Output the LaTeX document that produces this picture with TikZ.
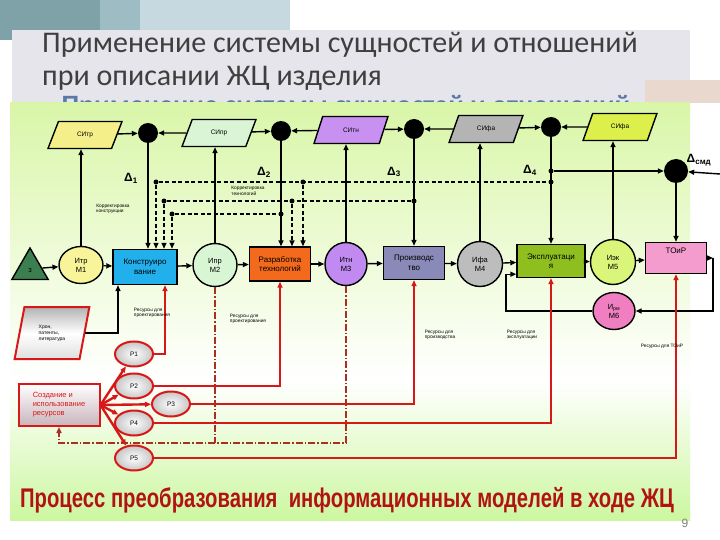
\documentclass[tikz,border=0pt]{standalone}
\usepackage{fontspec}
\setmainfont{Liberation Sans}
\newfontfamily\ttlfont{Carlito}
\usetikzlibrary{shapes.geometric,arrows.meta}

\definecolor{cTeal}{HTML}{7FA2A9}
\definecolor{cTealB}{HTML}{9DBCC4}
\definecolor{cSky}{HTML}{C6D9E1}
\definecolor{cBand}{HTML}{E5E5EB}
\definecolor{cTan}{HTML}{E8D8CE}
\definecolor{cGrnA}{HTML}{D9F6A8}
\definecolor{cGrnB}{HTML}{CCF7A0}
\definecolor{cRed}{HTML}{D81818}
\definecolor{cDD}{HTML}{A83020}
\definecolor{cTtl}{HTML}{3F3F3F}
\definecolor{cBtl}{HTML}{B31212}
\definecolor{cGhost}{HTML}{5A78A8}
\definecolor{cPinkG}{HTML}{C8B4BC}
\definecolor{cSItr}{HTML}{F5EF8A}
\definecolor{cSIpr}{HTML}{D9F5D5}
\definecolor{cSItn}{HTML}{C890F0}
\definecolor{cSIfa}{HTML}{B4B4B4}
\definecolor{cSIek}{HTML}{DCEF4A}
\definecolor{cTri}{HTML}{3B7F50}
\definecolor{cM1}{HTML}{F7F49A}
\definecolor{cKon}{HTML}{22B0EC}
\definecolor{cM2}{HTML}{D8F5D4}
\definecolor{cRaz}{HTML}{F46A1C}
\definecolor{cM3}{HTML}{C08AF0}
\definecolor{cPro}{HTML}{8A8AB8}
\definecolor{cM4}{HTML}{BDBDBD}
\definecolor{cEks}{HTML}{8FBF1F}
\definecolor{cM5}{HTML}{D9F57A}
\definecolor{cTor}{HTML}{F59CCF}
\definecolor{cM6}{HTML}{EF7FC1}

\tikzset{si/.style={trapezium, trapezium left angle=62, trapezium right angle=118, trapezium stretches,
  draw, line width=1.4pt, minimum width=74pt, minimum height=27pt, inner sep=0, font=\fontsize{6.5}{7}\selectfont}}
\tikzset{jn/.style={circle, fill=black, minimum size=20pt, inner sep=0}}
\tikzset{dt/.style={circle, fill=black, minimum size=5pt, inner sep=0}}
\tikzset{pr/.style={rectangle, draw, line width=1.4pt, minimum width=62pt, minimum height=34pt, inner sep=1pt,
  align=center, font=\fontsize{8}{9.5}\selectfont}}
\tikzset{mdl/.style={ellipse, draw, line width=1.4pt, minimum width=44pt, minimum height=43pt, inner sep=0,
  align=center, font=\fontsize{7.5}{9}\selectfont}}
\tikzset{rs/.style={ellipse, draw=cRed, line width=2pt, inner color=white, outer color=gray!45,
  minimum width=38pt, minimum height=25pt, inner sep=0, font=\fontsize{6.5}{7}\selectfont}}
\tikzset{lbl/.style={align=left, font=\fontsize{4.8}{5.6}\selectfont, inner sep=0}}
\tikzset{dlt/.style={font=\bfseries\fontsize{12}{12}\selectfont, inner sep=0}}
\tikzset{ln/.style={draw=black, line width=1.4pt}}
\tikzset{dln/.style={draw=black, line width=1.3pt, dash pattern=on 4pt off 2.5pt}}
\tikzset{rln/.style={draw=cRed, line width=2.4pt}}
\tikzset{ddl/.style={draw=cDD, line width=1.6pt, dash pattern=on 7pt off 2pt on 1.5pt off 2pt}}

\begin{document}
\begin{tikzpicture}[x=1pt, y=-1pt, >={Triangle[length=6pt,width=5pt]}]
\useasboundingbox (0,0) rectangle (720,540);
% slide
\fill[white] (0,0) rectangle (720,540);
\fill[cTeal] (0,0) rectangle (100,40);
\fill[cTealB] (100,0) rectangle (140,30);
\fill[cSky] (140,0) rectangle (290,30);
\fill[cBand] (12,30) rectangle (690,103);
\fill[cTan] (645,80) rectangle (720,103);
\node[anchor=base west, text=cGhost, font=\ttlfont\bfseries\fontsize{28}{30}\selectfont] (gh) at (58,115)
  {Применение системы сущностей и отношений};
\shade[top color=cGrnA, bottom color=white] (10,103) rectangle (690,380);
\shade[top color=white, bottom color=cGrnB] (10,380) rectangle (690,520);
\node[anchor=north west, align=left, inner sep=0, text=cTtl, font=\ttlfont\fontsize{30}{33}\selectfont] (ttl)
  at (42,32) {Применение системы сущностей и отношений\\при описании ЖЦ изделия};

% top row
\node[si, fill=cSItr] (sitr) at (85,135) {СИтр};
\node[si, fill=cSIpr] (sipr) at (219,133) {СИпр};
\node[si, fill=cSItn] (sitn) at (351,130) {СИтн};
\node[si, fill=cSIfa] (sifa) at (486,129) {СИфа};
\node[si, fill=cSIek] (siek) at (620,127) {СИфа};
\node[jn] (c1) at (148,133) {};
\node[jn] (c2) at (281,131) {};
\node[jn] (c3) at (414,129) {};
\node[jn] (c4) at (551,127) {};
\node[jn, minimum size=24pt] (c5) at (676,171) {};
\coordinate (rin) at (720,174);
\draw[ln,->] (sitr) -- (c1);
\draw[ln,->] (sipr) -- (c1);
\draw[ln,->] (sipr) -- (c2);
\draw[ln,->] (sitn) -- (c2);
\draw[ln,->] (sitn) -- (c3);
\draw[ln,->] (sifa) -- (c3);
\draw[ln,->] (sifa) -- (c4);
\draw[ln,->] (siek) -- (c4);
\draw[ln,->] (rin) -- (c5);

\node[dlt] (d1) at (131,178) {Δ\textsubscript{1}};
\node[dlt] (d2) at (264,172) {Δ\textsubscript{2}};
\node[dlt] (d3) at (394,172) {Δ\textsubscript{3}};
\node[dlt] (d4) at (530,170) {Δ\textsubscript{4}};
\node[dlt] (d5) at (699,160) {Δ\textsubscript{смд}};

% middle row
\node[draw, regular polygon, regular polygon sides=3, fill=cTri, line width=1.4pt, minimum size=42pt,
  inner sep=0, font=\fontsize{7.5}{9}\selectfont] (tri) at (30,269) {\raisebox{-8pt}{з}};
\node[mdl, fill=cM1, minimum height=37pt] (m1) at (81,265) {Итр\\М1};
\node[pr, fill=cKon, minimum width=64pt, minimum height=35pt] (kon) at (145,267) {Конструиро\\вание};
\node[mdl, fill=cM2] (m2) at (215,265) {Ипр\\М2};
\node[pr, fill=cRaz, minimum width=61pt] (raz) at (280,264) {Разработка\\технологий};
\node[mdl, fill=cM3, minimum width=42pt] (m3) at (346,264) {Итн\\М3};
\node[pr, fill=cPro, minimum width=61pt, minimum height=33pt] (pro) at (414,263) {Производс\\тво};
\node[mdl, fill=cM4, minimum width=45pt, minimum height=45pt] (m4) at (480,264) {Ифа\\М4};
\node[pr, fill=cEks, minimum width=68pt, minimum height=33pt] (eks) at (551,261) {Эксплуатаци\\я};
\node[mdl, fill=cM5, minimum width=45pt, minimum height=45pt] (m5) at (613,262) {Иэк\\М5};
\node[pr, fill=cTor, minimum width=61pt, minimum height=31pt] (tor) at (676,258) {\raisebox{15pt}{ТОиР}};
\node[mdl, fill=cM6, minimum width=42pt, minimum height=37pt] (m6) at (614,311) {И\textsubscript{рм}\\М6};
\foreach \a/\b in {tri/m1, m1/kon, kon/m2, m2/raz, raz/m3, m3/pro, pro/m4, m4/eks, eks/m5, m5/tor}
  \draw[ln,->] (\a) -- (\b);

\draw[ln,->] (m1.north) -- (m1.north |- sitr.south);
\draw[ln,->] (m2.north) -- (m2.north |- sipr.south);
\draw[ln,->] (m3.north) -- (m3.north |- sitn.south);
\draw[ln,->] (m4.north) -- (m4.north |- sifa.south);
\draw[ln,->] (m5.north) -- (m5.north |- siek.south);
\draw[ln,->] (c1) -- (c1 |- kon.north);
\draw[ln,->] (c2) -- (c2 |- raz.north);
\draw[ln,->] (c3) -- (c3 |- pro.north);
\draw[ln,->] (c4) -- (c4 |- eks.north);
\draw[ln,->] (c5) -- (c5 |- tor.north);

% corrections
\node[dt] (k1) at (156,182) {};
\node[dt] (k2) at (303,182) {};
\node[dt] (k3) at (c4 |- k1) {};
\node[dt] (k4) at (164,201) {};
\node[dt] (k5) at (292,201) {};
\node[dt] (k6) at (c3 |- k4) {};
\node[dt] (k7) at (172,214) {};
\node[dt] (k8) at (c2 |- k7) {};
\node[dt] (k9) at (c4 |- c5) {};
\draw[dln] (k1) -- (k3);
\draw[dln] (k4) -- (k6);
\draw[dln] (k7) -- (k8);
\draw[dln,->] (k1) -- (k1 |- kon.north);
\draw[dln,->] (k4) -- (k4 |- kon.north);
\draw[dln,->] (k7) -- (k7 |- kon.north);
\draw[dln,->] (k2) -- (k2 |- raz.north);
\draw[dln,->] (k5) -- (k5 |- raz.north);
\draw[ln,->] (k9) -- (c5);
\node[lbl] (kk) at (113,209) {Корректировка\\конструкции};
\node[lbl] (kt) at (248,191) {Корректировка\\технологий};

% repair loop
\coordinate (tr) at (713,258);
\coordinate (el) at (506,311);
\draw[ln,->] (tor) -- (tr);
\draw[ln,->] (tr) |- (m6);
\draw[ln,->] (m6) -- (el) |- ([yshift=4pt]eks.south west);

% resources
\node[trapezium, trapezium left angle=74, trapezium right angle=106, trapezium stretches, draw=cRed,
  line width=2pt, top color=gray!60, bottom color=gray!25, middle color=white, minimum width=75pt,
  minimum height=52pt, inner sep=0, align=left, font=\fontsize{5}{6}\selectfont] (hron) at (52,333)
  {Хрон,\\патенты,\\литература};
\node[rectangle, draw=cRed, line width=2pt, top color=white, bottom color=cPinkG, minimum width=81pt,
  minimum height=42pt, align=left, text=cRed, font=\fontsize{7.5}{9}\selectfont] (sozd) at (59,405)
  {Создание и\\использование\\ресурсов};
\node[rs] (p1) at (134,354) {Р1};
\node[rs] (p2) at (134,386) {Р2};
\node[rs] (p3) at (171,404) {Р3};
\node[rs] (p4) at (134,423) {Р4};
\node[rs] (p5) at (134,458) {Р5};
\foreach \p in {p1,p2,p3,p4,p5}
  \draw[rln,->] (sozd.east) -- (\p);
\draw[ln,->] (hron) -| ([xshift=-27pt]kon.south);
\draw[rln,->] (p1) -| ([xshift=20pt]kon.south);
\draw[rln,->] (p2) -| (raz.south);
\draw[rln,->] (p3) -| (pro.south);
\draw[rln,->] (p4) -| (eks.south);
\draw[rln,->] (p5) -| (tor.south);
\coordinate (dd) at (59,443);
\draw[ddl] (m2) -- (m2 |- dd);
\draw[ddl,->] (m3) |- (dd) -- (sozd);
\node[lbl] (r1) at (152,313) {Ресурсы для\\проектирования};
\node[lbl] (r2) at (248,319) {Ресурсы для\\проектирования};
\node[lbl] (r3) at (440,335) {Ресурсы для\\производства};
\node[lbl] (r4) at (522,335) {Ресурсы для\\эксплуатации};
\node[lbl] (r5) at (662,346) {Ресурсы для ТОиР};

% caption
\node[text=cBtl, font=\bfseries\fontsize{27}{29}\selectfont] (bt) at (347,500)
  {\scalebox{0.75}[1]{Процесс преобразования\ \ информационных моделей в ходе ЖЦ}};
\node[text=gray, font=\fontsize{12}{12}\selectfont] (pn) at (685,523) {9};
\end{tikzpicture}
\end{document}
